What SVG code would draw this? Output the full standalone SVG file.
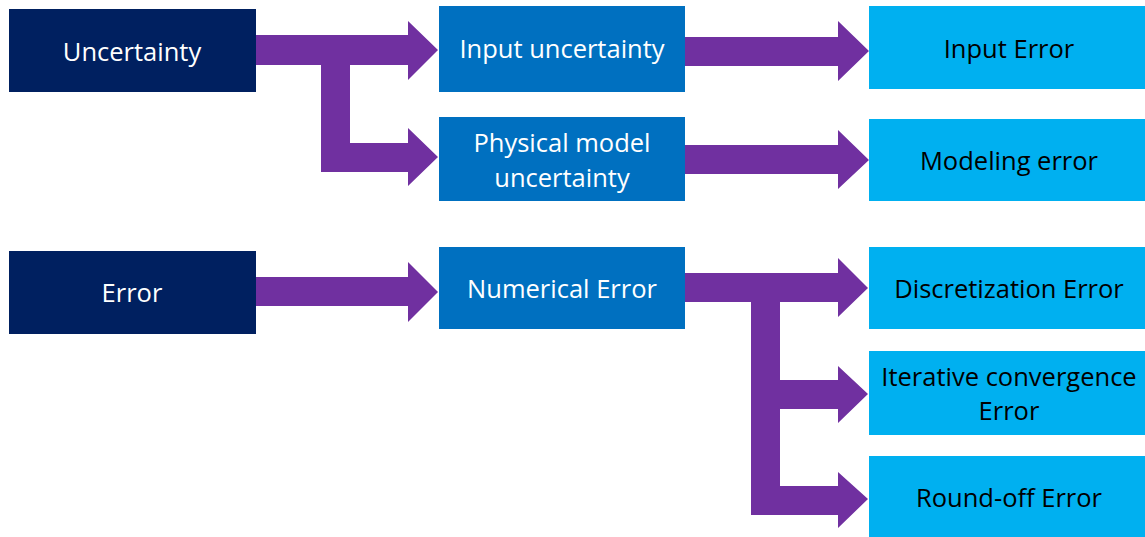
<svg xmlns="http://www.w3.org/2000/svg" width="1145" height="537" viewBox="0 0 1145 537">
<style>
.t{font-family:"Open Sans","Liberation Sans",sans-serif;font-size:25.5px;text-anchor:middle;dominant-baseline:central}
.w{fill:#ffffff}.k{fill:#000000}
.navy{fill:#002060}.blue{fill:#0070C0}.light{fill:#00B0F0}
.arr{fill:#7030A0}
</style>
<rect width="1145" height="537" fill="#ffffff"/>
<g id="connectors">
<path class="arr" d="M256,35 H408 V21 L438,50 L408,80 V65 H350 V143 H408 V128 L438,157 L408,186 V172 H321 V65 H256 Z"/>
<path class="arr" d="M256,277 H408 V262 L438,292 L408,322 V306 H256 Z"/>
<path class="arr" d="M685,37 H838 V21 L869,51 L838,81 V66 H685 Z"/>
<path class="arr" d="M685,145 H838 V130 L869,160 L838,189 V174 H685 Z"/>
<path class="arr" d="M685,273 H838 V258 L868,288 L838,317 V302 H780 V380 H838 V366 L868,394 L838,423 V409 H780 V486 H838 V472 L868,499 L838,528 V515 H751 V302 H685 Z"/>
</g>
<g id="uncertainty"><rect class="navy" x="9" y="9" width="247" height="83"/><text class="t w" x="132" y="51">Uncertainty</text></g>
<g id="error"><rect class="navy" x="9" y="251" width="247" height="83"/><text class="t w" x="132" y="292">Error</text></g>
<g id="input-uncertainty"><rect class="blue" x="439" y="6" width="246" height="86"/><text class="t w" x="562" y="48">Input uncertainty</text></g>
<g id="physical-model-uncertainty"><rect class="blue" x="439" y="117" width="246" height="84"/><text class="t w" x="562" y="142">Physical model</text><text class="t w" x="562" y="177">uncertainty</text></g>
<g id="numerical-error"><rect class="blue" x="439" y="247" width="246" height="82"/><text class="t w" x="562" y="288">Numerical Error</text></g>
<g id="input-error"><rect class="light" x="869" y="6" width="276" height="83"/><text class="t k" x="1009" y="48">Input Error</text></g>
<g id="modeling-error"><rect class="light" x="869" y="119" width="276" height="82"/><text class="t k" x="1009" y="160">Modeling error</text></g>
<g id="discretization-error"><rect class="light" x="869" y="247" width="276" height="82"/><text class="t k" x="1009" y="288">Discretization Error</text></g>
<g id="iterative-convergence-error"><rect class="light" x="869" y="351" width="276" height="84"/><text class="t k" x="1009" y="376">Iterative convergence</text><text class="t k" x="1009" y="410">Error</text></g>
<g id="round-off-error"><rect class="light" x="869" y="456" width="276" height="81"/><text class="t k" x="1009" y="497">Round-off Error</text></g>
</svg>
